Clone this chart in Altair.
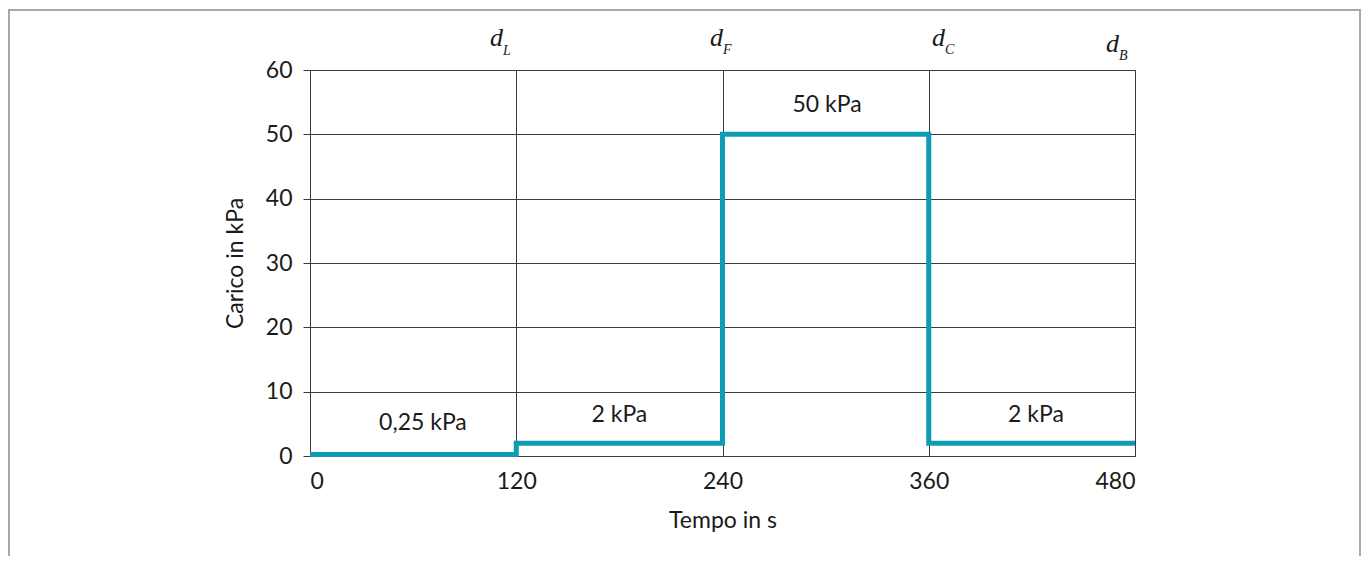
import altair as alt
import pandas as pd

# step series
time_s = [0, 120, 240, 360, 480]
load_kpa = [0.25, 2, 50, 2, 2]

# in-plot load labels
lab_text = ["0,25 kPa", "2 kPa", "50 kPa", "2 kPa"]
lab_x = [65.7, 180, 300.8, 422.4]
lab_y = [5.1, 6.4, 54.6, 6.4]

# top phase labels d_L, d_F, d_C, d_B
d_sub = ["L", "F", "C", "B"]
d_x = [104.7, 232.7, 361.9, 463.1]
d_y = [63.7, 63.7, 63.7, 62.8]
sub_y = [62.4, 62.5, 62.5, 61.5]

x_ticks = [0, 120, 240, 360, 480]
y_ticks = [0, 10, 20, 30, 40, 50, 60]

FONT = "Lato"
FS = 23
TEAL = "#0f9bb5"
GRID = "#3a3a3a"

xs = alt.Scale(domain=[0, 480], nice=False, zero=False)
ys = alt.Scale(domain=[0, 60], nice=False)

line_df = pd.DataFrame({"t": time_s, "v": load_kpa})
lab_df = pd.DataFrame({"t": lab_x, "v": lab_y, "txt": lab_text})
d_df = pd.DataFrame({"t": d_x, "v": d_y, "sv": sub_y, "sub": d_sub})

base_x = alt.X("t:Q", scale=xs, title="Tempo in s",
               axis=alt.Axis(values=x_ticks, ticks=False, labelPadding=14,
                             titlePadding=16, domain=False,
                             grid=True, gridColor=GRID, gridWidth=1, gridOpacity=1))
base_y = alt.Y("v:Q", scale=ys, title="Carico in kPa",
               axis=alt.Axis(values=y_ticks, tickSize=7, tickColor=GRID,
                             labelPadding=11, titlePadding=18,
                             domain=True, domainColor=GRID,
                             grid=True, gridColor=GRID, gridWidth=1, gridOpacity=1))

line = alt.Chart(line_df).mark_line(
    interpolate="step-after", color=TEAL, strokeWidth=5, strokeCap="butt", clip=False
).encode(x=base_x, y=base_y)

labels = alt.Chart(lab_df).mark_text(
    font=FONT, fontSize=FS, color="#1a1a1a", align="center", baseline="middle"
).encode(x=alt.X("t:Q", scale=xs), y=alt.Y("v:Q", scale=ys), text="txt:N")

d_main = alt.Chart(d_df).mark_text(
    text="d", font="Liberation Serif", fontStyle="italic", fontSize=26,
    color="#1a1a1a", align="left", baseline="alphabetic", clip=False
).encode(x=alt.X("t:Q", scale=xs), y=alt.Y("v:Q", scale=ys))

d_subs = alt.Chart(d_df).mark_text(
    font="Liberation Serif", fontStyle="italic", fontSize=14,
    color="#1a1a1a", align="left", baseline="alphabetic", dx=13, clip=False
).encode(x=alt.X("t:Q", scale=xs), y=alt.Y("sv:Q", scale=ys), text="sub:N")

frame = alt.Chart(pd.DataFrame({"k": [0]})).mark_rect(
    filled=False, stroke="#a8a8a8", strokeWidth=2, clip=False
).encode(x=alt.value(-301), x2=alt.value(1050), y=alt.value(-60), y2=alt.value(530))

chart = alt.layer(frame, line, labels, d_main, d_subs).properties(
    width=825, height=386,
    autosize=alt.AutoSizeParams(type="none"),
    padding={"left": 302, "top": 62, "right": 227, "bottom": 100},
    background="white",
).configure_view(stroke=GRID, strokeWidth=1).configure_axis(
    labelFont=FONT, titleFont=FONT, labelFontSize=FS, titleFontSize=FS,
    labelColor="#1a1a1a", titleColor="#1a1a1a", titleFontWeight="normal"
)

chart.save("out.html", embed_options={"renderer": "svg", "actions": False})
